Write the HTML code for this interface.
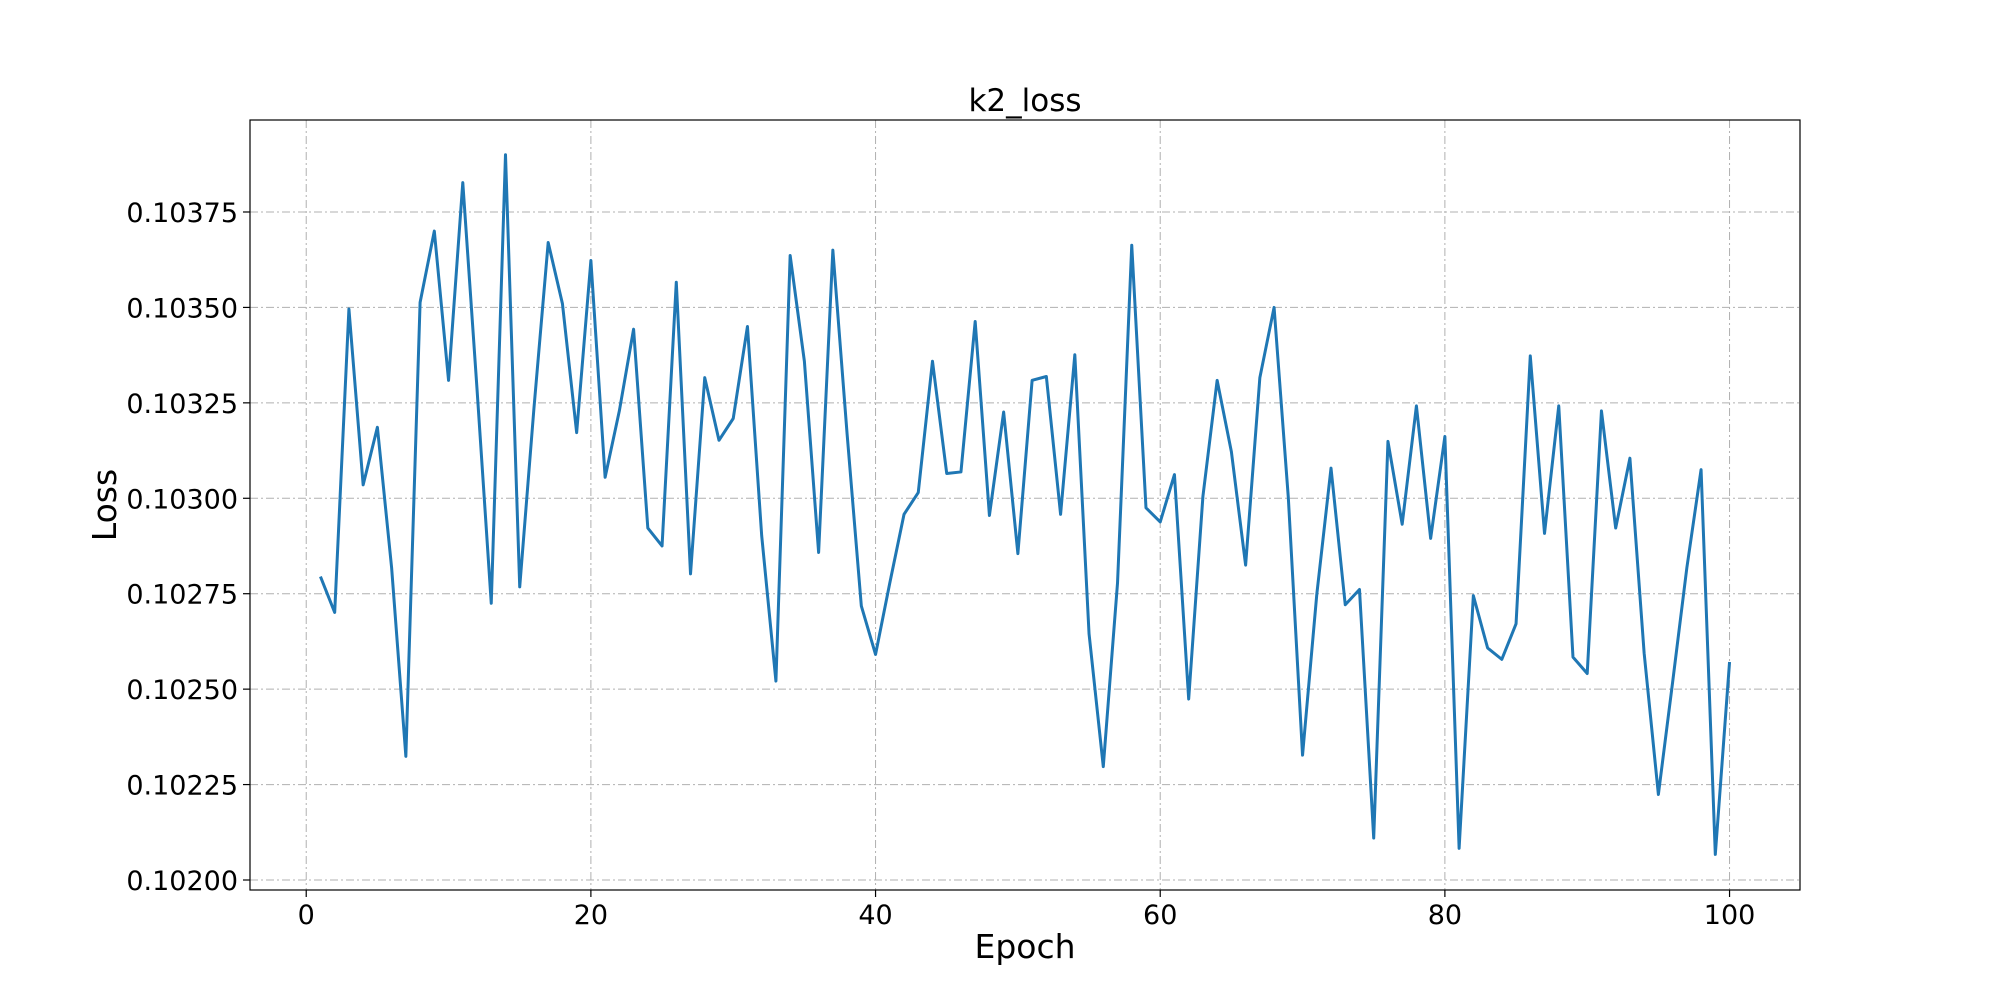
<!DOCTYPE html>
<html><head><meta charset="utf-8"><style>
html,body{margin:0;padding:0;background:#fff;}
svg text{font-family:"DejaVu Sans","Liberation Sans",sans-serif;fill:#000;}
</style></head><body>
<svg id="chart" width="2000" height="1000" xmlns="http://www.w3.org/2000/svg">
<rect width="2000" height="1000" fill="#fff"/>
<g id="grid"></g>
<g id="ticks"></g>
<g id="series"></g>
<rect x="250" y="120" width="1550" height="770" fill="none" stroke="#000" stroke-width="1.2"/>
<text x="1025" y="111" text-anchor="middle" font-size="31">k2_loss</text>
<text x="1025" y="958" text-anchor="middle" font-size="33">Epoch</text>
<text x="116" y="505" text-anchor="middle" font-size="33" transform="rotate(-90 116 505)">Loss</text>
</svg>
<script>
const epochs = Array.from({length:100},(_,i)=>i+1);
const lossValues = [0.102795,0.102701,0.103496,0.103035,0.103186,0.102818,0.102324,0.103513,0.1037,0.103309,
0.103827,0.103286,0.102725,0.1039,0.102768,0.103236,0.10367,0.10351,0.103172,0.103623,
0.103055,0.103229,0.103443,0.102922,0.102875,0.103566,0.102802,0.103316,0.103152,0.103209,
0.10345,0.102902,0.102521,0.103636,0.103359,0.102858,0.10365,0.103169,0.102718,0.102591,
0.102778,0.102958,0.103015,0.103359,0.103065,0.103069,0.103463,0.102955,0.103226,0.102855,
0.103309,0.103319,0.102958,0.103376,0.102645,0.102297,0.102778,0.103663,0.102975,0.102938,
0.103062,0.102474,0.103005,0.103309,0.103122,0.102825,0.103316,0.1035,0.103002,0.102327,
0.102748,0.103079,0.102721,0.102761,0.10211,0.103149,0.102932,0.103242,0.102895,0.103162,
0.102083,0.102745,0.102608,0.102578,0.102671,0.103373,0.102908,0.103242,0.102584,0.102541,
0.103229,0.102922,0.103105,0.102594,0.102224,0.102518,0.102818,0.103075,0.102067,0.102571];
const xTicks = [0,20,40,60,80,100];
const yTicks = [0.102,0.10225,0.1025,0.10275,0.103,0.10325,0.1035,0.10375];
const yTickLabels = ["0.10200","0.10225","0.10250","0.10275","0.10300","0.10325","0.10350","0.10375"];

const NS="http://www.w3.org/2000/svg";
const L=250,R=1800,T=120,B=890;
const xMin=-3.95,xMax=104.95;
function xs(v){return L+(v-xMin)/(xMax-xMin)*(R-L);}
function ys(v){return 880-(v-0.102)/0.00025*95.43;}
function mk(tag,attrs,parent){const e=document.createElementNS(NS,tag);for(const k in attrs)e.setAttribute(k,attrs[k]);parent.appendChild(e);return e;}
const grid=document.getElementById('grid'),ticks=document.getElementById('ticks'),series=document.getElementById('series');
xTicks.forEach(t=>{
  const x=xs(t);
  const g=mk('line',{x1:x,x2:x,y1:T,y2:B,stroke:'#b0b0b0','stroke-width':1,'stroke-dasharray':'8,3,2,3'},grid);
  
  
  const tk=mk('line',{x1:x,x2:x,y1:B,y2:B+7,stroke:'#000','stroke-width':1.2},ticks);
  
  
  const tx=mk('text',{x:x,y:B+34,'text-anchor':'middle','font-size':27},ticks);
  tx.textContent=t;
  
  
});
yTicks.forEach((t,i)=>{
  const y=ys(t);
  const g=mk('line',{x1:L,x2:R,y1:y,y2:y,stroke:'#b0b0b0','stroke-width':1,'stroke-dasharray':'8,3,2,3'},grid);
  
  
  const tk=mk('line',{x1:L-7,x2:L,y1:y,y2:y,stroke:'#000','stroke-width':1.2},ticks);
  
  
  const tx=mk('text',{x:L-12,y:y+10,'text-anchor':'end','font-size':27},ticks);
  tx.textContent=yTickLabels[i];
  
  
});
const pts=epochs.map((e,i)=>xs(e).toFixed(2)+','+ys(lossValues[i]).toFixed(2)).join(' ');
const line=mk('polyline',{points:pts,fill:'none',stroke:'#1f77b4','stroke-width':3,'stroke-linejoin':'round'},series);


</script>
</body></html>
